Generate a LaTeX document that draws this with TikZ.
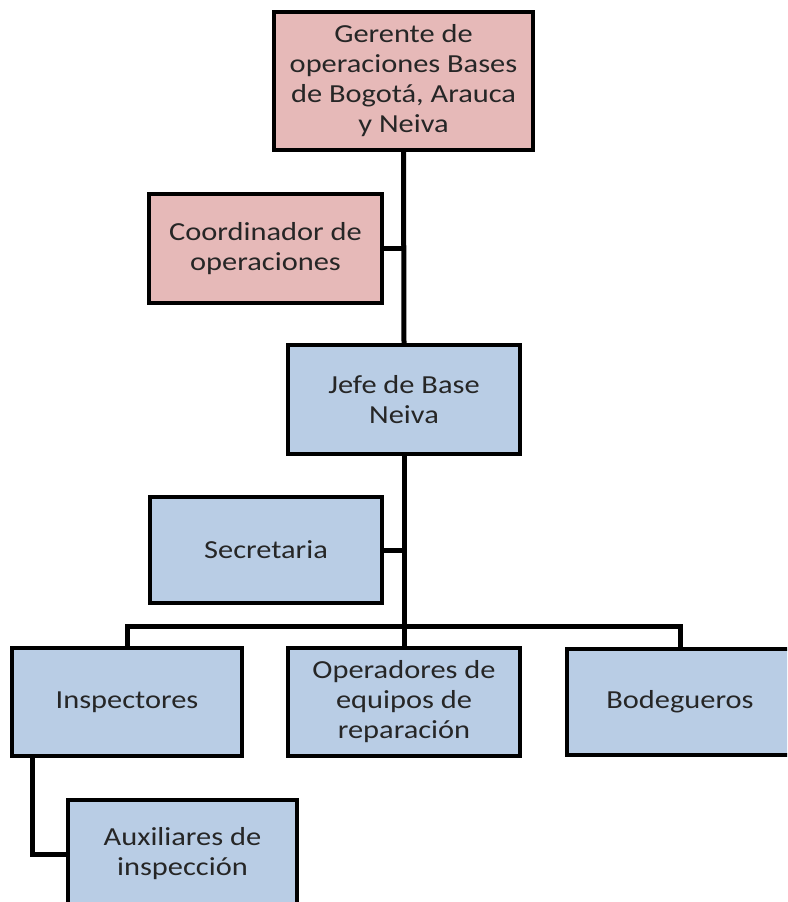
\documentclass[tikz,border=0pt]{standalone}
\usepackage{fontspec}
\setmainfont{Carlito}[FakeStretch=1.17]
\begin{document}
\begin{tikzpicture}[x=1pt,y=-1pt,
  orgbox/.style={draw=black, line width=4pt, align=center, inner sep=0pt,
    font=\fontsize{26}{30}\selectfont, text=black!85},
  mgr/.style={orgbox, fill=pinkfill},
  staff/.style={orgbox, fill=bluefill},
  link/.style={line width=5pt, line join=miter, draw=black}]
\definecolor{pinkfill}{HTML}{E6B9B8}
\definecolor{bluefill}{HTML}{B9CDE5}
\clip (0,0) rectangle (787,902);
\fill[white] (0,0) rectangle (787,902);

% boxes
\node[mgr, minimum width=259pt, minimum height=138pt] (ger) at (403.5,81)
  {Gerente de\\operaciones Bases\\de Bogotá, Arauca\\y Neiva};
\node[mgr, minimum width=233pt, minimum height=109pt] (coord) at (265.5,248.5)
  {Coordinador de\\operaciones};
\node[staff, minimum width=232pt, minimum height=109pt] (jefe) at (404,399.5)
  {Jefe de Base\\Neiva};
\node[staff, minimum width=232pt, minimum height=106pt] (sec) at (266,550)
  {Secretaria};
\node[staff, minimum width=230pt, minimum height=108pt] (insp) at (127,702)
  {Inspectores};
\node[staff, minimum width=232pt, minimum height=108pt] (oper) at (404,702)
  {Operadores de\\equipos de\\reparación};
\node[staff, minimum width=226pt, minimum height=106pt] (bod) at (680,701.5)
  {Bodegueros};
\node[staff, minimum width=229pt, minimum height=108pt] (aux) at (182.5,854)
  {Auxiliares de\\inspección};

% connectors
\coordinate (bus) at (404,626);
\draw[link] (ger.south) -- (jefe.north);
\draw[link] (coord.east) -- (coord.east -| ger.south);
\draw[link] (jefe.south) -- (oper.north);
\draw[link] (sec.east) -- (sec.east -| jefe.south);
\draw[link] (insp.north) -- (insp.north |- bus) -- (bod.north |- bus) -- (bod.north);
\draw[link] ([xshift=22pt]insp.south west) |- (aux.west);
\end{tikzpicture}
\end{document}
